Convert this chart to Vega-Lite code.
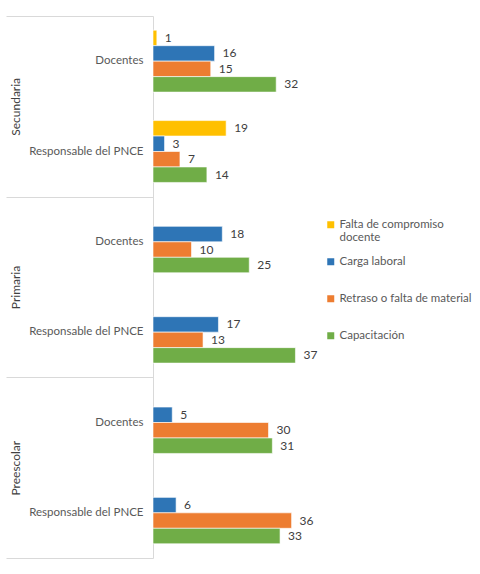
{
  "$schema": "https://vega.github.io/schema/vega-lite/v6.json",
  "description": "Causas por nivel educativo y rol",
  "width": 154,
  "height": 542,
  "padding": {"left": 5, "top": 15, "right": 5, "bottom": 5},
  "config": {
    "view": {"stroke": null},
    "font": "Lato"
  },
  "data": {
    "values": [
      {"nivel": "Secundaria", "rol": "Docentes", "serie": "Falta de compromiso docente", "valor": 1},
      {"nivel": "Secundaria", "rol": "Docentes", "serie": "Carga laboral", "valor": 16},
      {"nivel": "Secundaria", "rol": "Docentes", "serie": "Retraso o falta de material", "valor": 15},
      {"nivel": "Secundaria", "rol": "Docentes", "serie": "Capacitación", "valor": 32},
      {"nivel": "Secundaria", "rol": "Responsable del PNCE", "serie": "Falta de compromiso docente", "valor": 19},
      {"nivel": "Secundaria", "rol": "Responsable del PNCE", "serie": "Carga laboral", "valor": 3},
      {"nivel": "Secundaria", "rol": "Responsable del PNCE", "serie": "Retraso o falta de material", "valor": 7},
      {"nivel": "Secundaria", "rol": "Responsable del PNCE", "serie": "Capacitación", "valor": 14},
      {"nivel": "Primaria", "rol": "Docentes", "serie": "Carga laboral", "valor": 18},
      {"nivel": "Primaria", "rol": "Docentes", "serie": "Retraso o falta de material", "valor": 10},
      {"nivel": "Primaria", "rol": "Docentes", "serie": "Capacitación", "valor": 25},
      {"nivel": "Primaria", "rol": "Responsable del PNCE", "serie": "Carga laboral", "valor": 17},
      {"nivel": "Primaria", "rol": "Responsable del PNCE", "serie": "Retraso o falta de material", "valor": 13},
      {"nivel": "Primaria", "rol": "Responsable del PNCE", "serie": "Capacitación", "valor": 37},
      {"nivel": "Preescolar", "rol": "Docentes", "serie": "Carga laboral", "valor": 5},
      {"nivel": "Preescolar", "rol": "Docentes", "serie": "Retraso o falta de material", "valor": 30},
      {"nivel": "Preescolar", "rol": "Docentes", "serie": "Capacitación", "valor": 31},
      {"nivel": "Preescolar", "rol": "Responsable del PNCE", "serie": "Carga laboral", "valor": 6},
      {"nivel": "Preescolar", "rol": "Responsable del PNCE", "serie": "Retraso o falta de material", "valor": 36},
      {"nivel": "Preescolar", "rol": "Responsable del PNCE", "serie": "Capacitación", "valor": 33}
    ]
  },
  "transform": [
    {"calculate": "datum.nivel + '|' + datum.rol", "as": "grupo"}
  ],
  "layer": [
    {
      "mark": {"type": "rule", "strokeOpacity": 0},
      "encoding": {
        "y": {
          "field": "nivel",
          "type": "nominal",
          "scale": {"domain": ["Secundaria", "Primaria", "Preescolar"], "paddingInner": 0, "paddingOuter": 0},
          "axis": {
            "orient": "left",
            "title": null,
            "domain": false,
            "tickBand": "extent",
            "tickSize": 147,
            "tickColor": "#d9d9d9",
            "labelAngle": 270,
            "labelAlign": "center",
            "labelBaseline": "middle",
            "labelPadding": -9,
            "labelColor": "#404040",
            "labelFont": "Lato",
            "labelFontSize": 12
          }
        }
      }
    },
    {
      "encoding": {
        "y": {
          "field": "grupo",
          "type": "nominal",
          "scale": {
            "domain": [
              "Secundaria|Docentes", "Secundaria|Responsable del PNCE",
              "Primaria|Docentes", "Primaria|Responsable del PNCE",
              "Preescolar|Docentes", "Preescolar|Responsable del PNCE"
            ],
            "paddingInner": 0,
            "paddingOuter": 0
          },
          "axis": {
            "orient": "left",
            "title": null,
            "ticks": false,
            "domainColor": "#d9d9d9",
            "labelPadding": 10,
            "labelExpr": "split(datum.value, '|')[1]",
            "labelColor": "#595959",
            "labelFont": "Lato",
            "labelFontSize": 11.5
          }
        },
        "yOffset": {
          "field": "serie",
          "type": "nominal",
          "scale": {
            "domain": ["Falta de compromiso docente", "Carga laboral", "Retraso o falta de material", "Capacitación"],
            "paddingInner": 0,
            "paddingOuter": 0.92
          }
        },
        "x": {
          "field": "valor",
          "type": "quantitative",
          "scale": {"domain": [0, 40]},
          "axis": null
        }
      },
      "layer": [
        {
          "mark": {"type": "bar", "stroke": "white", "strokeWidth": 0.6},
          "encoding": {
            "color": {
              "field": "serie",
              "type": "nominal",
              "scale": {
                "domain": ["Falta de compromiso docente", "Carga laboral", "Retraso o falta de material", "Capacitación"],
                "range": ["#FFC000", "#2E75B6", "#ED7D31", "#70AD47"]
              },
              "legend": {
                "title": null,
                "orient": "none",
                "legendX": 172,
                "legendY": 203,
                "padding": 0,
                "symbolType": "square",
                "symbolSize": 49,
                "symbolStrokeWidth": 0,
                "labelOffset": 3,
                "rowPadding": 11,
                "labelFont": "Lato",
                "labelFontSize": 11.5,
                "labelColor": "#595959",
                "labelExpr": "datum.label == 'Falta de compromiso docente' ? ['Falta de compromiso', 'docente'] : [datum.label, '']"
              }
            }
          }
        },
        {
          "mark": {"type": "text", "align": "left", "baseline": "middle", "dx": 8, "font": "Lato", "fontSize": 12, "color": "#404040"},
          "encoding": {
            "text": {"field": "valor", "type": "quantitative"}
          }
        }
      ]
    }
  ],
  "resolve": {"scale": {"y": "independent"}, "axis": {"y": "independent"}}
}
